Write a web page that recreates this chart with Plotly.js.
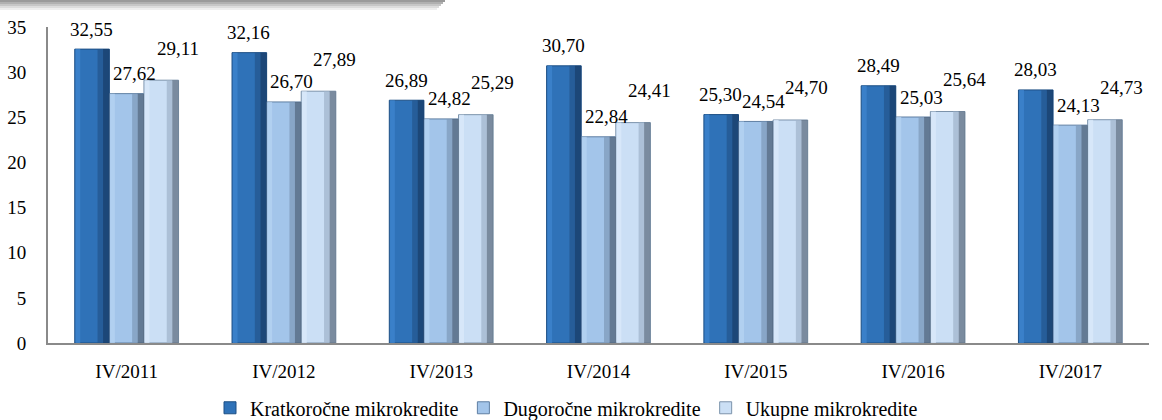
<!DOCTYPE html>
<html>
<head>
<meta charset="utf-8">
<script src="https://cdn.plot.ly/plotly-3.0.1.min.js"></script>
<style>html,body{margin:0;padding:0;background:#fff;}#chart{width:1162px;height:420px;}</style>
</head>
<body>
<div id="chart"></div>
<script>
const categories = ["IV/2011","IV/2012","IV/2013","IV/2014","IV/2015","IV/2016","IV/2017"];
const seriesNames = ["Kratkoročne mikrokredite","Dugoročne mikrokredite","Ukupne mikrokredite"];
const kratkorocne = [32.55, 32.16, 26.89, 30.70, 25.30, 28.49, 28.03];
const dugorocne   = [27.62, 26.70, 24.82, 22.84, 24.54, 25.03, 24.13];
const ukupne      = [29.11, 27.89, 25.29, 24.41, 24.70, 25.64, 24.73];
const yTicks = [0,5,10,15,20,25,30,35];

const series = [kratkorocne, dugorocne, ukupne];
const colors = ["#2f72b8", "#a3c5ea", "#cbdff5"];
const lightEdge = ["#3f86cf", "#b6d3f2", "#dbeafa"];
const midShade = ["#24578f", "#7f9bbb", "#a2b6cc"];
const darkShade = ["#173a63", "#4e6077", "#5f6f82"];
const lineColors = ["#1d4f85", "#5f7fa3", "#7c93ab"];
const fmt = v => v.toFixed(2).replace('.', ',');
const FONT = "Liberation Serif";

// bar geometry (styling) in category units
const BW = 0.22, START = -0.33;
const traces = [];
series.forEach((vals, i) => {
  const off = START + i * BW;
  traces.push({
    type: 'bar', name: seriesNames[i], x: categories, y: vals,
    width: BW, offset: off,
    marker: {color: colors[i], line: {color: lineColors[i], width: 1}},
    hoverinfo: 'skip', legendrank: i + 1
  });
});
// shading strips to imitate the bevelled bars
series.forEach((vals, i) => {
  const off = START + i * BW;
  const strips = [
    {o: off + 0.005, w: 0.03, c: lightEdge[i]},
    {o: off + BW - 0.075, w: 0.035, c: midShade[i]},
    {o: off + BW - 0.04, w: 0.04, c: darkShade[i]}
  ];
  strips.forEach(s => traces.push({
    type: 'bar', x: categories, y: vals, width: s.w, offset: s.o,
    marker: {color: s.c, opacity: 0.75, line: {width: 0}},
    showlegend: false, hoverinfo: 'skip'
  }));
});

// label placement (pixel shifts relative to category centre)
const barOffsets = [-35, 0, 35];
const extraX = [0, 8, 16];
const extraY = [20, 20, 32];
const annotations = [];
series.forEach((vals, i) => {
  vals.forEach((v, j) => {
    annotations.push({
      x: categories[j], y: v, xref: 'x', yref: 'y',
      text: fmt(v), showarrow: false,
      xshift: barOffsets[i] + extraX[i], yshift: extraY[i],
      yanchor: 'middle', xanchor: 'center',
      font: {family: FONT, size: 19, color: '#000'}
    });
  });
});

// decorative grey band at the top-left
const shapes = [];
const bandShades = ['#9a9a9a', '#b0b0b0', '#c6c6c6', '#dcdcdc', '#eeeeee'];
const L = 48, R = 1149, T = 27, B = 343;
const px = p => (p - L) / (R - L);
const py = p => (B - p) / (B - T);
bandShades.forEach((c, k) => {
  shapes.push({type: 'rect', xref: 'paper', yref: 'paper',
    x0: px(0), x1: px(445 - k * 2), y0: py(2 * (k + 1)), y1: py(2 * k),
    fillcolor: c, line: {width: 0}, layer: 'above'});
});

const layout = {
  width: 1162, height: 420,
  margin: {l: L, r: 1162 - R, t: T, b: 420 - B, autoexpand: false},
  paper_bgcolor: '#fff', plot_bgcolor: '#fff',
  barmode: 'overlay',
  font: {family: FONT, size: 19, color: '#000'},
  xaxis: {
    type: 'category', showgrid: false, zeroline: false, range: [-0.5, 6.5],
    showline: true, linecolor: '#8a8a8a', linewidth: 2,
    ticks: 'outside', ticklen: 10, tickcolor: 'rgba(0,0,0,0)',
    tickfont: {family: FONT, size: 19, color: '#000'}
  },
  yaxis: {
    range: [0, 35], tickvals: yTicks, ticktext: yTicks.map(String),
    showgrid: false, zeroline: false,
    showline: true, linecolor: '#8a8a8a', linewidth: 2,
    ticks: 'outside', ticklen: 16, tickcolor: 'rgba(0,0,0,0)',
    tickfont: {family: FONT, size: 19, color: '#000'}
  },
  showlegend: true,
  legend: {
    orientation: 'h', x: px(210), xanchor: 'left', y: -0.205, yanchor: 'middle',
    font: {family: FONT, size: 20, color: '#000'},
    itemwidth: 30, tracegroupgap: 0, bgcolor: 'rgba(0,0,0,0)'
  },
  annotations: annotations,
  shapes: shapes
};

Plotly.newPlot('chart', traces, layout, {displayModeBar: false, staticPlot: true});
</script>
</body>
</html>
